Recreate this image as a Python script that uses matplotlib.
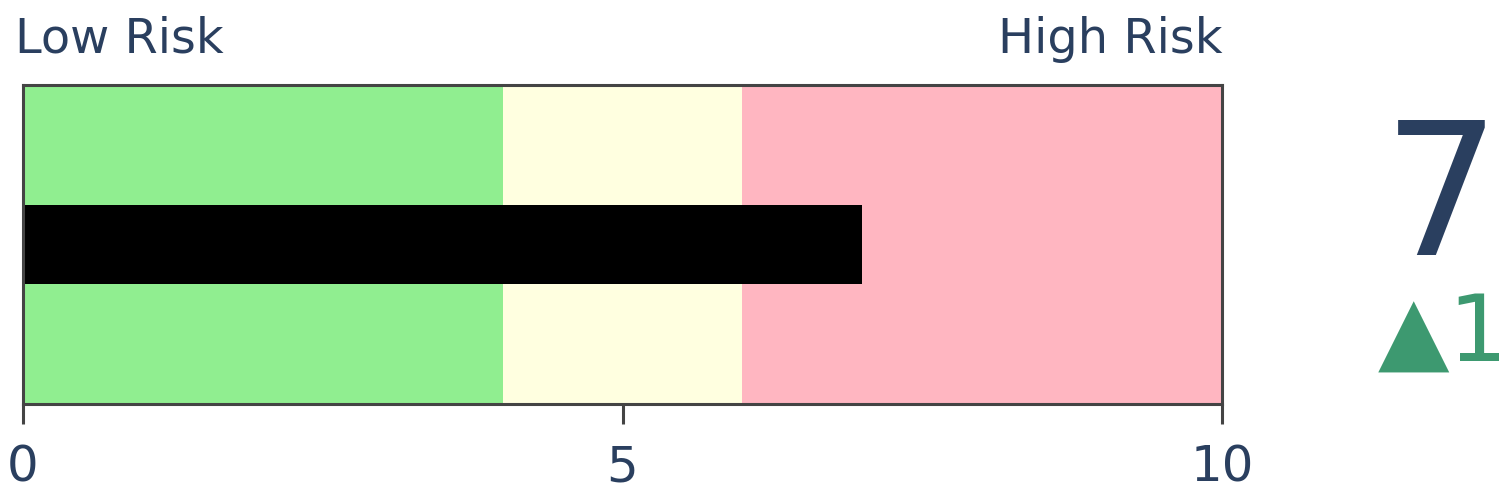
import matplotlib
matplotlib.use("Agg")
import matplotlib.pyplot as plt

# gauge data
steps = [(0, 4, "lightgreen"), (4, 6, "lightyellow"), (6, 10, "lightpink")]
value = 7
delta = 1
ticks = [0, 5, 10]
tick_labels = ["0", "5", "10"]
low_label = "Low Risk"
high_label = "High Risk"

text_color = "#2a3f5f"
edge = "#444444"
W, H = 1512, 498

fig = plt.figure(figsize=(W / 100, H / 100), dpi=100)
ax = fig.add_axes([23 / W, 1 - 404 / H, (1222 - 23) / W, (404 - 85) / H])

for start, end, color in steps:
    ax.barh(0.5, end - start, left=start, height=1.0, color=color, linewidth=0)
ax.barh(0.5, value, left=0, height=0.25, color="black", linewidth=0)

ax.set_xlim(0, 10)
ax.set_ylim(0, 1)
ax.set_yticks([])
ax.set_xticks(ticks)
ax.set_xticklabels(tick_labels)
ax.tick_params(axis="x", length=14.4, width=2.2, color=edge, pad=14,
               labelsize=36, labelcolor=text_color)
for s in ax.spines.values():
    s.set_color(edge)
    s.set_linewidth(2.2)

ax.text(-8 / 1199, 1.0 + 32 / 319, low_label, transform=ax.transAxes, ha="left",
        va="baseline", fontsize=34.5, color=text_color)
ax.text(1.0, 1.0 + 32 / 319, high_label, transform=ax.transAxes, ha="right",
        va="baseline", fontsize=34.5, color=text_color)

fig.text(1442 / W, 1 - 255 / H, str(value), ha="center", va="baseline",
         fontsize=133, color=text_color)
fig.text(1443 / W, 1 - 361 / H, "\u25b2" + str(delta), ha="center",
         va="baseline", fontsize=67, color="#3D9970")

fig.savefig("out.png", dpi=100)
